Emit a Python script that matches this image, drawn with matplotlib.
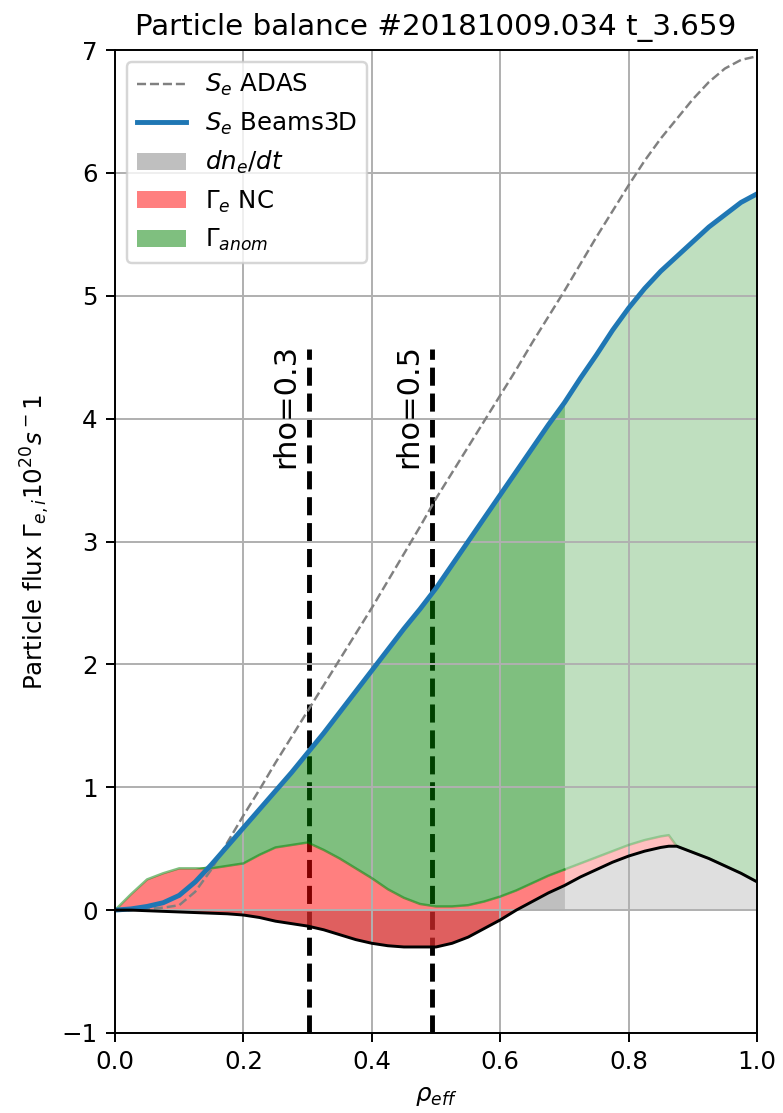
import numpy as np
from matplotlib import pyplot as plt

# radial grid (rho_eff) and profiles in 1e20 s^-1
rho = [0.0, 0.025, 0.05, 0.075, 0.1, 0.125, 0.15, 0.175, 0.2, 0.225,
       0.25, 0.275, 0.3, 0.325, 0.35, 0.375, 0.4, 0.425, 0.45, 0.475,
       0.5, 0.525, 0.55, 0.575, 0.6, 0.625, 0.65, 0.675, 0.7, 0.725,
       0.75, 0.775, 0.8, 0.825, 0.85, 0.8625, 0.875, 0.9, 0.925, 0.95,
       0.975, 1.0]
S_beams = [0.0, 0.01, 0.03, 0.06, 0.12, 0.23, 0.37, 0.52, 0.67, 0.82,
           0.97, 1.12, 1.28, 1.44, 1.61, 1.78, 1.95, 2.12, 2.29, 2.45,
           2.62, 2.81, 3.0, 3.19, 3.38, 3.57, 3.76, 3.95, 4.13, 4.33,
           4.52, 4.72, 4.9, 5.06, 5.2, 5.26, 5.32, 5.44, 5.56, 5.66,
           5.76, 5.83]
S_adas = [0.0, 0.0, 0.01, 0.02, 0.04, 0.15, 0.33, 0.55, 0.77, 0.98,
          1.2, 1.41, 1.62, 1.83, 2.04, 2.25, 2.46, 2.68, 2.9, 3.12,
          3.35, 3.56, 3.77, 3.98, 4.19, 4.4, 4.62, 4.83, 5.04, 5.26,
          5.48, 5.69, 5.9, 6.1, 6.28, 6.36, 6.44, 6.6, 6.74, 6.85,
          6.92, 6.95]
dndt = [0.0, 0.0, -0.005, -0.01, -0.015, -0.02, -0.025, -0.03, -0.04, -0.06,
        -0.09, -0.11, -0.13, -0.16, -0.2, -0.24, -0.27, -0.29, -0.3, -0.3,
        -0.3, -0.27, -0.22, -0.15, -0.08, 0.0, 0.07, 0.14, 0.2, 0.27,
        0.33, 0.39, 0.44, 0.48, 0.51, 0.52, 0.52, 0.47, 0.42, 0.36,
        0.3, 0.23]
gamma_nc = [0.0, 0.13, 0.255, 0.31, 0.355, 0.36, 0.365, 0.39, 0.42, 0.51,
            0.6, 0.64, 0.68, 0.65, 0.62, 0.58, 0.53, 0.46, 0.4, 0.35,
            0.33, 0.3, 0.26, 0.22, 0.19, 0.16, 0.15, 0.14, 0.13, 0.11,
            0.1, 0.09, 0.09, 0.09, 0.09, 0.09, 0.0, 0.0, 0.0, 0.0,
            0.0, 0.0]

rho_marks = [0.302, 0.494]
rho_texts = ['rho=0.3', 'rho=0.5']
rho_split = 0.7  # outside of this the balance is less reliable

x = np.array(rho)
sb = np.array(S_beams)
dn = np.array(dndt)
top = dn + np.array(gamma_nc)
upper = np.maximum(sb, top)

fig = plt.figure(figsize=(784 / 176, 1113 / 176), dpi=176)
ax = fig.add_axes([0.1467, 0.0719, 0.8189, 0.8831])

ax.vlines(rho_marks, -1, 4.57, colors='k', linestyles='--', lw=2, zorder=0.9)
for r, t in zip(rho_marks, rho_texts):
    ax.text(r - 0.014, 3.6, t, rotation=90, ha='right', va='bottom', fontsize=12.5)

inner = x <= rho_split
outer = x >= rho_split
for m, a, lab in [(inner, 0.5, True), (outer, 0.25, False)]:
    ax.fill_between(x[m], 0, dn[m], color='gray', alpha=a, lw=0,
                    label='$dn_e/dt$' if lab else None)
    ax.fill_between(x[m], dn[m], top[m], color='r', alpha=a, lw=0,
                    label=r'$\Gamma_e$ NC' if lab else None)
    ax.fill_between(x[m], top[m], upper[m], color='g', alpha=a, lw=0,
                    label=r'$\Gamma_{anom}$' if lab else None)
    # boundary between NC and anomalous flux
    ax.plot(x[m], top[m], color='g', alpha=a, lw=1)

ax.plot(rho, S_adas, '--', color='gray', lw=1, label='$S_e$ ADAS')
ax.plot(rho, S_beams, color='tab:blue', lw=2, label='$S_e$ Beams3D')
ax.plot(rho, dndt, 'k', lw=1.2)

handles, labels = ax.get_legend_handles_labels()
order = [labels.index(s) for s in ['$S_e$ ADAS', '$S_e$ Beams3D', '$dn_e/dt$',
                                     r'$\Gamma_e$ NC', r'$\Gamma_{anom}$']]
ax.legend([handles[i] for i in order], [labels[i] for i in order], loc='upper left')

ax.set_xlim(0, 1)
ax.set_ylim(-1, 7)
ax.set_xlabel(r'$\rho_{eff}$')
ax.set_ylabel(r'Particle flux $\Gamma_{e,i} 10^{20} s^-1$')
ax.set_title('Particle balance #20181009.034 t_3.659')
ax.grid()

fig.savefig('out.png', dpi=176)
